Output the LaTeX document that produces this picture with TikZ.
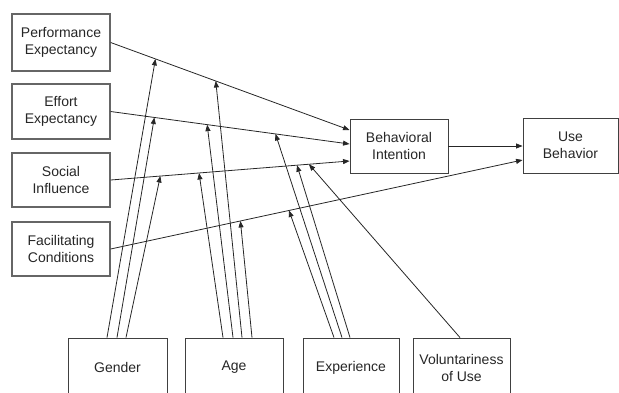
\documentclass[tikz,border=0pt]{standalone}
\usepackage{fontspec}
\setmainfont{Liberation Sans}
\usetikzlibrary{arrows.meta}
\begin{document}
\begin{tikzpicture}[x=1pt,y=-1pt,
  box/.style={draw=black!75, line width=0.9pt, rectangle, align=center, inner sep=0pt, text=black!85, font=\fontsize{14}{17}\selectfont},
  lbox/.style={box, minimum width=98pt, line width=1.3pt, draw=black!60},
  conn/.style={draw=black!85, line width=0.8pt, -{Triangle[length=6.5pt,width=5pt]}},
  mod/.style={conn}]
\useasboundingbox (0,0) rectangle (619,392);
\node[lbox, minimum height=57pt] (pe) at (61,42.5) {Performance\\Expectancy};
\node[lbox, minimum height=55pt] (ee) at (61,111.5) {Effort\\Expectancy};
\node[lbox, minimum height=54pt] (si) at (61,180) {Social\\Influence};
\node[lbox, minimum height=54pt] (fc) at (61,249) {Facilitating\\Conditions};
\node[box, minimum width=98pt, minimum height=54pt] (bi) at (399,146) {Behavioral\\Intention};
\node[box, minimum width=95pt, minimum height=55pt] (ub) at (570.5,145.5) {Use\\Behavior};
\node[box, minimum width=99pt, minimum height=59pt] (gender) at (117.5,367.5) {Gender};
\node[box, minimum width=98pt, minimum height=59pt] (age) at (234,367.5) {Age};
\node[box, minimum width=96pt, minimum height=59pt] (exp) at (351,367.5) {Experience};
\node[box, minimum width=97pt, minimum height=59pt] (vol) at (461.5,367.5) {Voluntariness\\of Use};
% main paths
\draw[conn] (pe.east) -- coordinate[pos=0.1875] (pe1) coordinate[pos=0.44] (pe2) ([yshift=16pt]bi.west);
\draw[conn] (ee.east) -- coordinate[pos=0.183] (ee1) coordinate[pos=0.404] (ee2) coordinate[pos=0.69] (ee3) ([yshift=2pt]bi.west);
\draw[conn] (si.east) -- coordinate[pos=0.208] (si1) coordinate[pos=0.37] (si2) coordinate[pos=0.78] (si3) coordinate[pos=0.83] (si4) ([yshift=-15pt]bi.west);
\draw[conn] (fc.east) -- coordinate[pos=0.315] (fc1) coordinate[pos=0.433] (fc2) ([yshift=-14.5pt]ub.west);
\draw[conn] (bi.east) -- (bi.east -| ub.west);
% moderators
\draw[mod] ([xshift=-10.5pt]gender.north) -- (pe1);
\draw[mod] ([xshift=-0.5pt]gender.north) -- (ee1);
\draw[mod] ([xshift=8.5pt]gender.north) -- (si1);
\draw[mod] ([xshift=-11pt]age.north) -- (si2);
\draw[mod] ([xshift=-1pt]age.north) -- (ee2);
\draw[mod] ([xshift=8pt]age.north) -- (pe2);
\draw[mod] ([xshift=18pt]age.north) -- (fc1);
\draw[mod] ([xshift=-17pt]exp.north) -- (fc2);
\draw[mod] ([xshift=-9pt]exp.north) -- (ee3);
\draw[mod] ([xshift=-1pt]exp.north) -- (si3);
\draw[mod] ([xshift=-1.5pt]vol.north) -- (si4);
\end{tikzpicture}
\end{document}
